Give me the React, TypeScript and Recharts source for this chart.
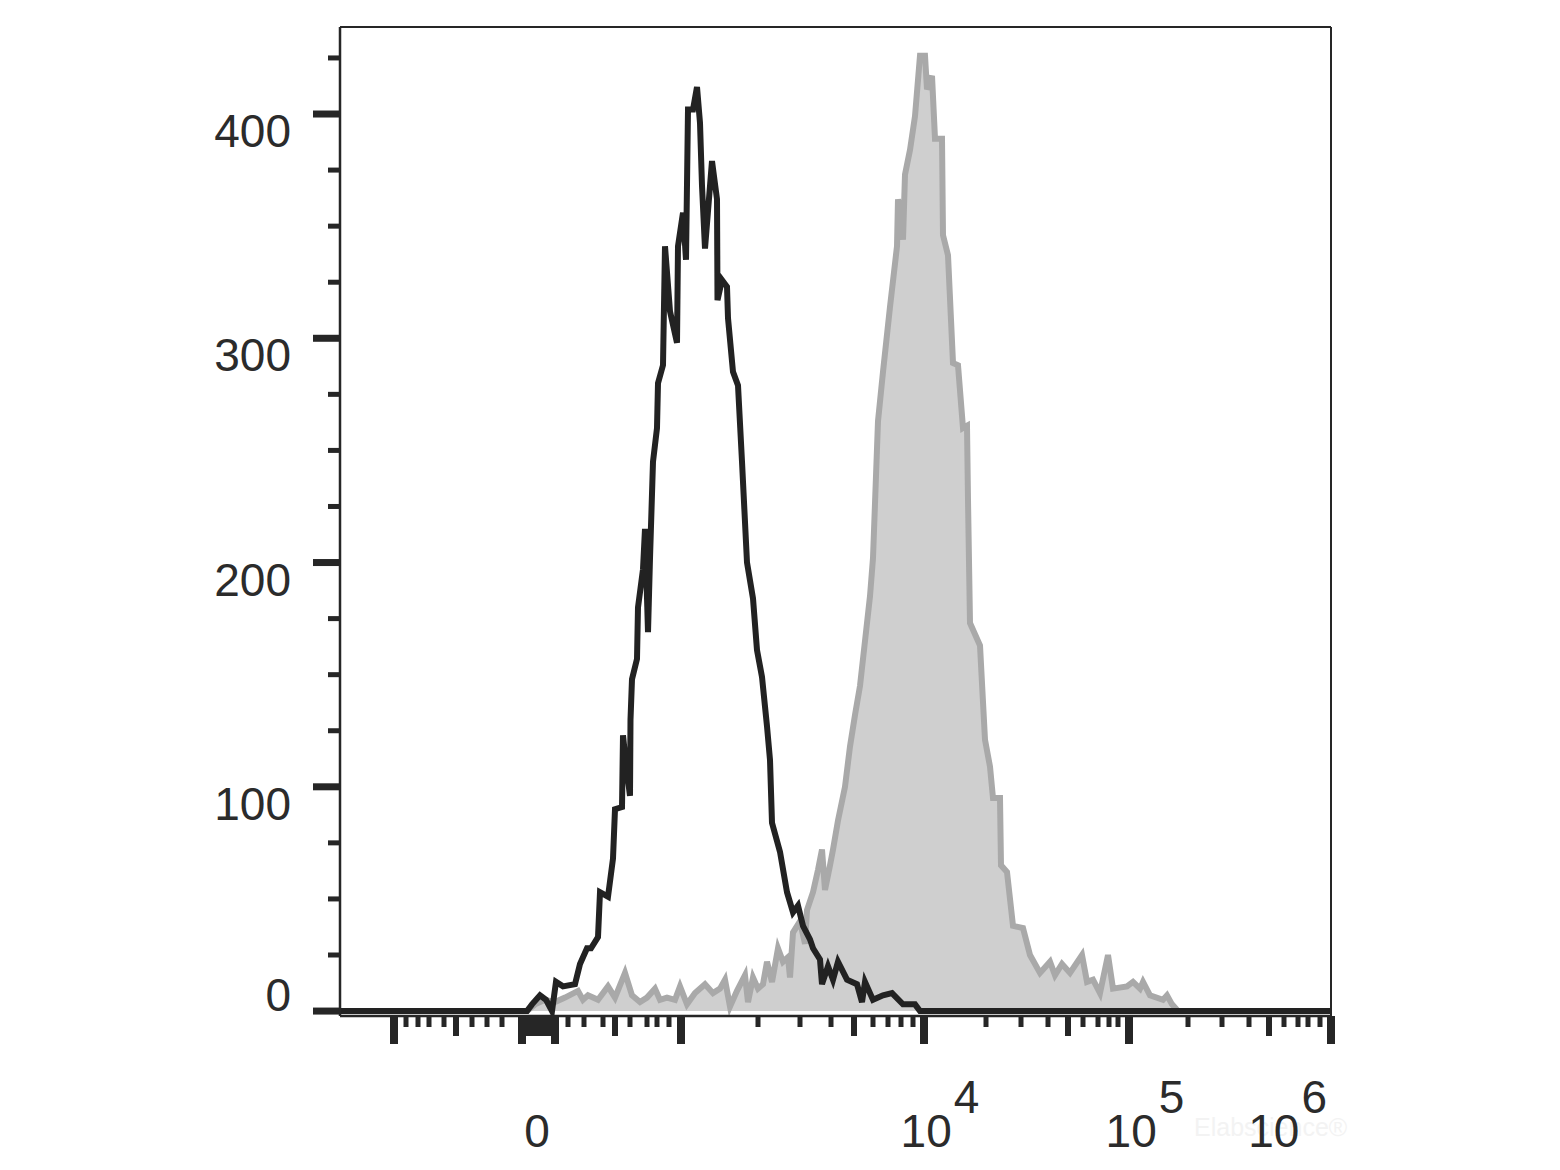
import React from 'react';
import { ComposedChart, Area, Line, XAxis, YAxis, ReferenceLine } from 'recharts';

// Display channel (biexponential display scale, 0..991) and event counts
const stainedChannel = [0, 187, 195, 205, 215, 225, 238, 243, 248, 258, 268, 275, 285, 292, 300, 307, 315, 320, 327, 335, 340, 347, 355, 365, 373, 380, 385, 390, 397, 405, 408, 413, 418, 423, 427, 432, 438, 443, 448, 450, 453, 460, 465, 467, 473, 478, 482, 485, 490, 493, 498, 505, 510, 515, 520, 525, 530, 533, 538, 543, 550, 557, 558, 563, 565, 570, 575, 580, 585, 587, 592, 595, 602, 603, 608, 613, 618, 623, 627, 628, 630, 640, 645, 650, 653, 660, 661, 667, 673, 683, 690, 700, 710, 715, 722, 730, 742, 747, 753, 760, 768, 773, 787, 793, 800, 803, 810, 823, 827, 832, 838, 991];
const stainedCount = [0, 0, 3, 5, 4, 6, 9, 5, 7, 5, 11, 6, 17, 7, 4, 6, 10, 5, 6, 5, 11, 3, 8, 12, 8, 10, 14, 2, 9, 16, 4, 15, 10, 12, 22, 13, 28, 22, 24, 15, 35, 40, 30, 45, 53, 63, 72, 54, 65, 72, 85, 100, 118, 132, 145, 165, 185, 202, 263, 285, 314, 341, 362, 344, 373, 384, 399, 426, 426, 411, 417, 389, 389, 346, 337, 289, 288, 260, 261, 228, 173, 163, 121, 109, 95, 95, 65, 62, 38, 37, 25, 17, 22, 16, 21, 17, 25, 13, 14, 8, 25, 10, 11, 13, 10, 13, 7, 5, 7, 3, 0, 0];

const controlChannel = [0, 187, 192, 200, 206, 212, 216, 223, 235, 240, 247, 251, 258, 260, 268, 273, 275, 282, 283, 286, 290, 290.5, 292, 297, 298, 303, 305, 308, 310, 313, 317, 318, 323, 325, 330, 337, 338, 343, 346, 348, 353, 357, 360, 362, 365, 372, 377, 377.5, 382, 387, 388, 393, 398, 402, 407, 413, 417, 422, 427, 430, 432, 440, 447, 453, 458, 463, 470, 473, 480, 482, 488, 493, 498, 507, 517, 522, 525, 533, 543, 552, 563, 575, 580, 991];
const controlCount = [0, 0, 3, 7, 5, 0, 13, 11, 12, 21, 28, 28, 33, 53, 51, 68, 90, 91, 123, 110, 96, 130, 148, 157, 180, 197, 215, 169, 202, 245, 260, 280, 288, 341, 312, 298, 341, 356, 335, 402, 402, 412, 396, 368, 340, 379, 362, 317, 326, 323, 309, 285, 279, 245, 200, 184, 161, 149, 127, 112, 84, 71, 53, 44, 47, 38, 32, 28, 23, 12, 20, 14, 22, 14, 12, 4, 13, 5, 7, 8, 3, 3, 0, 0];

const yTickValues = [0, 25, 50, 75, 100, 125, 150, 175, 200, 225, 250, 275, 300, 325, 350, 375, 400, 425];

const xTickChannels = [54, 66, 78, 89, 104, 116, 132, 147, 162, 182, 188, 193, 198, 203, 208, 215, 228, 244, 263, 275, 290, 307, 317, 329, 341, 418, 460, 491, 514, 533, 548, 561, 573, 584, 646, 681, 708, 728, 743, 758, 769, 778, 789, 848, 882, 909, 929, 944, 958, 968, 980, 991];
const xTickKinds = ['major', 'minor', 'minor', 'minor', 'minor', 'medium', 'minor', 'minor', 'minor', 'major', 'medium', 'medium', 'medium', 'medium', 'medium', 'major', 'minor', 'minor', 'minor', 'medium', 'minor', 'minor', 'minor', 'minor', 'major', 'minor', 'minor', 'minor', 'medium', 'minor', 'minor', 'minor', 'minor', 'major', 'minor', 'minor', 'minor', 'medium', 'minor', 'minor', 'minor', 'minor', 'major', 'minor', 'minor', 'minor', 'medium', 'minor', 'minor', 'minor', 'minor', 'major'];

const xLabelChannels = [197, 584, 789, 991];
const xLabelBase = ['0', '10', '10', '10'];
const xLabelExp = ['', '4', '5', '6'];

const stainedData = stainedChannel.map((c, i) => ({ ch: c, count: stainedCount[i] }));
const controlData = controlChannel.map((c, i) => ({ ch: c, count: controlCount[i] }));
const allXTicks = Array.from(new Set([...xTickChannels, ...xLabelChannels])).sort((a, b) => a - b);

const FONT = '"Liberation Sans", Arial, Helvetica, sans-serif';
const INK = '#262626';

const YTick = (props: any) => {
  const { x, y, payload } = props;
  const v = payload.value;
  const major = v % 100 === 0;
  const len = major ? 27 : 12;
  const th = major ? 7 : 5;
  return (
    <g>
      <rect x={x - len} y={y - th / 2} width={len} height={th} fill={INK} />
      {major && (
        <text x={x - 49} y={v === 0 ? y : y + 33} textAnchor="end" fontFamily={FONT} fontSize={46} fill="#2b2b2b">
          {v}
        </text>
      )}
    </g>
  );
};

const XTick = (props: any) => {
  const { x, y, payload } = props;
  const v = payload.value;
  const ti = xTickChannels.indexOf(v);
  const li = xLabelChannels.indexOf(v);
  let mark = null;
  if (ti >= 0) {
    const kind = xTickKinds[ti];
    const len = kind === 'major' ? 28 : kind === 'medium' ? 20 : 11;
    const th = kind === 'major' ? 8 : kind === 'medium' ? 6 : 5;
    mark = <rect x={x - th / 2} y={y} width={th} height={len} fill={INK} />;
  }
  let label = null;
  if (li >= 0) {
    const base = xLabelBase[li];
    const exp = xLabelExp[li];
    const last = li === xLabelChannels.length - 1;
    if (!exp) {
      label = (
        <text x={x} y={y + 131} textAnchor="middle" fontFamily={FONT} fontSize={46} fill="#2b2b2b">{base}</text>
      );
    } else {
      label = (
        <text x={last ? x - 4 : x + 16} y={y + 131} textAnchor={last ? 'end' : 'middle'} fontFamily={FONT} fontSize={46} fill="#2b2b2b">
          <tspan>{base}</tspan>
          <tspan dy={-34} dx={2}>{exp}</tspan>
        </text>
      );
    }
  }
  return (
    <g>
      {mark}
      {label}
    </g>
  );
};

export default function App() {
  return (
    <div style={{ position: 'absolute', left: 0, top: 0, width: 1560, height: 1170, background: '#fff' }}>
      <div
        style={{
          position: 'absolute',
          left: 1194,
          top: 1113,
          fontFamily: FONT,
          fontSize: 25,
          color: '#f3f3f3',
          whiteSpace: 'nowrap',
        }}
      >
        Elabscience®
      </div>
      <ComposedChart
        width={1560}
        height={1170}
        margin={{ top: 27, right: 229, bottom: 74, left: 240 }}
        style={{ position: 'absolute', left: 0, top: 0 }}
      >
        <XAxis
          type="number"
          dataKey="ch"
          domain={[0, 991]}
          allowDataOverflow
          ticks={allXTicks}
          interval={0}
          tickSize={0}
          tickMargin={0}
          tickLine={false}
          tick={<XTick />}
          height={80}
          axisLine={{ stroke: INK, strokeWidth: 2.5 }}
        />
        <YAxis
          type="number"
          domain={[-2.2, 438.8]}
          allowDataOverflow
          ticks={yTickValues}
          interval={0}
          tickSize={0}
          tickMargin={0}
          tickLine={false}
          tick={<YTick />}
          width={100}
          axisLine={{ stroke: INK, strokeWidth: 2.5 }}
        />
        <Area
          data={stainedData}
          dataKey="count"
          type="linear"
          stroke="#a9a9a9"
          strokeWidth={6}
          fill="#cfcfcf"
          fillOpacity={1}
          baseValue={0}
          dot={false}
          activeDot={false}
          isAnimationActive={false}
        />
        <Line
          data={controlData}
          dataKey="count"
          type="linear"
          stroke="#222222"
          strokeWidth={6}
          dot={false}
          activeDot={false}
          isAnimationActive={false}
        />
        <ReferenceLine y={438.8} stroke={INK} strokeWidth={2} ifOverflow="visible" />
        <ReferenceLine x={991} stroke={INK} strokeWidth={2} ifOverflow="visible" />
      </ComposedChart>
    </div>
  );
}
